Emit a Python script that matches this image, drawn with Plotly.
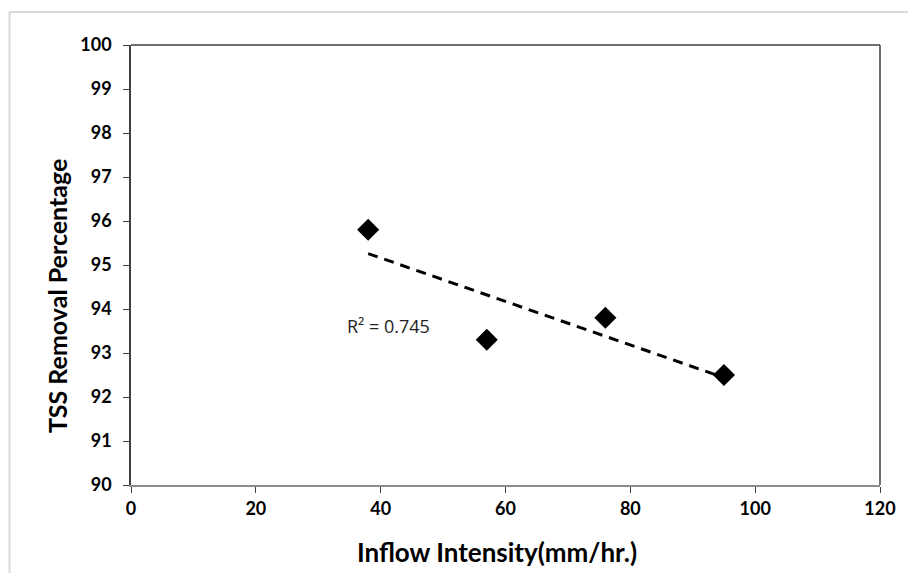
import numpy as np
import plotly.graph_objects as go

# Data
inflow_intensity = [38, 57, 76, 95]
tss_removal = [95.8, 93.3, 93.8, 92.5]
x_ticks = [0, 20, 40, 60, 80, 100, 120]
y_ticks = [90, 91, 92, 93, 94, 95, 96, 97, 98, 99, 100]
r2_label = "R² = 0.745"
x_title = "Inflow Intensity(mm/hr.)"
y_title = "TSS Removal Percentage"

# Linear trendline from the data
slope, intercept = np.polyfit(inflow_intensity, tss_removal, 1)
trend_x = [min(inflow_intensity), max(inflow_intensity)]
trend_y = [slope * v + intercept for v in trend_x]

fig = go.Figure()
fig.add_trace(go.Scatter(
    x=trend_x, y=trend_y, mode="lines",
    line=dict(color="black", width=3, dash="10px,7px"),
    hoverinfo="skip", showlegend=False))
fig.add_trace(go.Scatter(
    x=inflow_intensity, y=tss_removal, mode="markers",
    marker=dict(symbol="diamond", size=17, color="black"),
    showlegend=False))

fig.add_annotation(x=34.3, y=93.61, xref="x", yref="y", text=r2_label,
                   showarrow=False, xanchor="left", yanchor="middle",
                   font=dict(family="Open Sans, Liberation Sans", size=18, color="#222"))

tick_font = dict(family="Lato, Liberation Sans", size=18, color="black", weight="bold")
title_font = dict(family="Lato, Liberation Sans", size=26, color="black", weight="bold")

fig.add_annotation(x=0.489, y=-0.152, xref="paper", yref="paper", text=x_title,
                   showarrow=False, xanchor="center", yanchor="middle", font=title_font)
fig.add_annotation(x=-0.0997, y=0.43, xref="paper", yref="paper", text=y_title,
                   textangle=-90, showarrow=False, xanchor="center", yanchor="middle",
                   font=dict(family="Lato, Liberation Sans", size=25, color="black", weight="bold"))

fig.update_xaxes(
    range=[0, 120], tickvals=x_ticks, ticktext=[str(v) for v in x_ticks],
    showgrid=False, zeroline=False,
    showline=True, linecolor="#8c8c8c", linewidth=2,
    ticks="outside", ticklen=6, tickcolor="#404040", tickwidth=1,
    tickfont=tick_font,
)
fig.update_yaxes(
    range=[90, 100], tickvals=y_ticks, ticktext=[str(v) for v in y_ticks],
    showgrid=False, zeroline=False,
    showline=True, linecolor="#404040", linewidth=1.5,
    ticks="outside", ticklen=6, tickcolor="#404040", tickwidth=1,
    tickfont=tick_font, ticklabelstandoff=8,
)

# plot-area frame top/right
fig.add_shape(type="line", xref="paper", yref="paper", x0=0, x1=1, y0=1, y1=1,
              line=dict(color="#404040", width=1.5))
fig.add_shape(type="line", xref="paper", yref="paper", x0=1, x1=1, y0=0, y1=1,
              line=dict(color="#404040", width=1.5))
# outer chart border (left & top)
fig.add_shape(type="line", xref="paper", yref="paper", x0=-0.1622, x1=-0.1622, y0=-0.3, y1=1.075,
              line=dict(color="#d9d9d9", width=2))
fig.add_shape(type="line", xref="paper", yref="paper", x0=-0.1622, x1=1.1, y0=1.075, y1=1.075,
              line=dict(color="#d9d9d9", width=2))

fig.update_layout(
    width=900, height=565,
    margin=dict(l=123, r=25, t=37, b=88),
    paper_bgcolor="white", plot_bgcolor="white",
    showlegend=False,
)

fig.write_html("out.html")
